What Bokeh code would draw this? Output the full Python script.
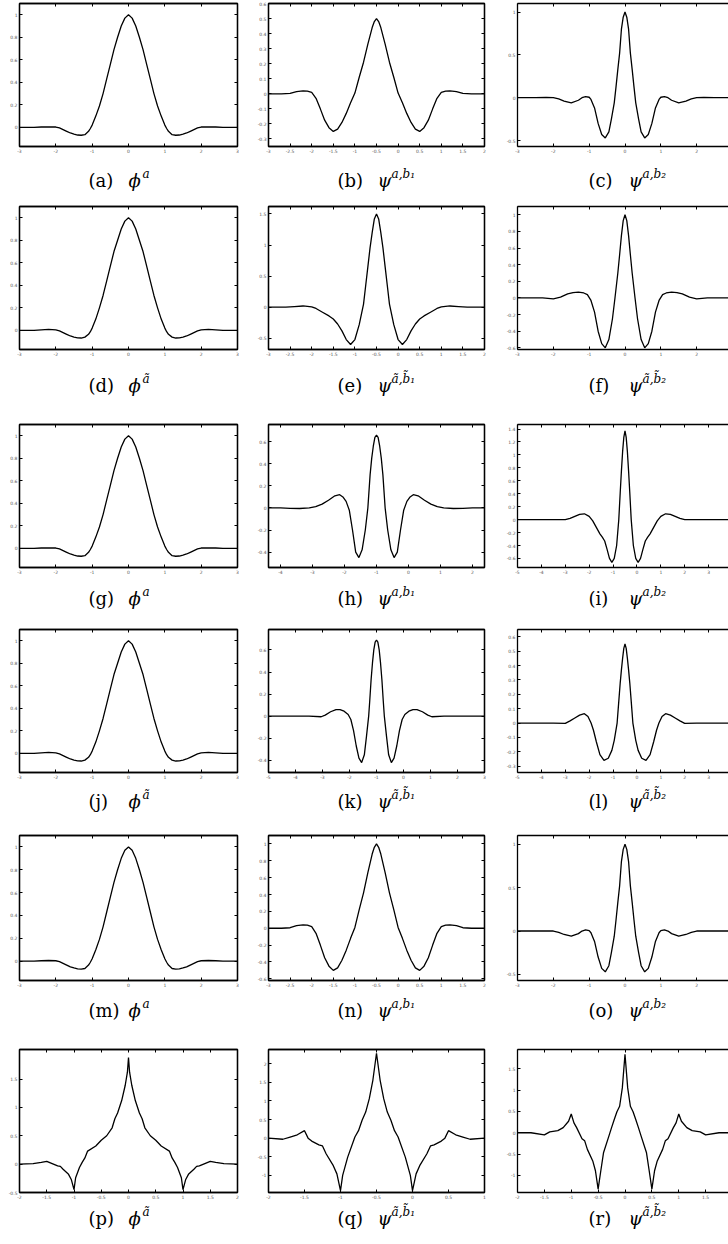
from bokeh.plotting import figure
from bokeh.layouts import column, row
from bokeh.models import Range1d, FixedTicker, LinearAxis, CustomJSTickFormatter
from bokeh.core.properties import value
from bokeh.embed import file_html
from bokeh.resources import INLINE

# ---------------- data ----------------
A_X = [-3, -2.6, -2.4, -2.2, -2.0, -1.9, -1.8, -1.7, -1.6, -1.5, -1.4, -1.3, -1.2, -1.1, -1.05, -1.0, -0.9, -0.8, -0.7, -0.6, -0.5, -0.4, -0.3, -0.2, -0.1, 0,
       0.1, 0.2, 0.3, 0.4, 0.5, 0.6, 0.7, 0.8, 0.9, 1.0, 1.05, 1.1, 1.2, 1.3, 1.4, 1.5, 1.6, 1.7, 1.8, 1.9, 2.0, 2.2, 2.4, 2.6, 3]
A_Y = [0, 0, 0.003, 0.005, 0.003, -0.005, -0.02, -0.035, -0.05, -0.06, -0.068, -0.07, -0.065, -0.035, -0.01, 0.02, 0.1, 0.19, 0.3, 0.43, 0.56, 0.69, 0.8, 0.9, 0.97, 1.0,
       0.97, 0.9, 0.8, 0.69, 0.56, 0.43, 0.3, 0.19, 0.1, 0.02, -0.01, -0.035, -0.065, -0.07, -0.068, -0.06, -0.05, -0.035, -0.02, -0.005, 0.003, 0.005, 0.003, 0, 0]

B_X = [-3, -2.7, -2.5, -2.35, -2.2, -2.1, -2.0, -1.9, -1.8, -1.7, -1.6, -1.5, -1.4, -1.3, -1.2, -1.1, -1.0, -0.9, -0.8, -0.7, -0.6, -0.55, -0.5,
       -0.45, -0.4, -0.3, -0.2, -0.1, 0.0, 0.1, 0.2, 0.3, 0.4, 0.5, 0.6, 0.7, 0.8, 0.9, 1.0, 1.1, 1.2, 1.35, 1.5, 1.7, 2.0]
B_Y = [0, 0, 0.003, 0.015, 0.02, 0.018, 0.01, -0.03, -0.1, -0.175, -0.225, -0.25, -0.235, -0.19, -0.13, -0.06, 0.005, 0.11, 0.21, 0.33, 0.44, 0.48, 0.5,
       0.48, 0.44, 0.33, 0.21, 0.11, 0.005, -0.06, -0.13, -0.19, -0.235, -0.25, -0.225, -0.175, -0.1, -0.03, 0.01, 0.018, 0.02, 0.015, 0.003, 0, 0]

C_X = [-3, -2.5, -2.2, -2.0, -1.85, -1.7, -1.5, -1.3, -1.2, -1.1, -1.0, -0.95, -0.85, -0.75, -0.65, -0.55, -0.45, -0.38, -0.3, -0.25, -0.2, -0.15, -0.1, -0.05, 0,
       0.05, 0.1, 0.15, 0.2, 0.25, 0.3, 0.38, 0.45, 0.55, 0.65, 0.75, 0.85, 0.95, 1.0, 1.1, 1.2, 1.3, 1.5, 1.7, 1.85, 2.0, 2.2, 2.5, 3]
C_Y = [0, 0, 0.002, 0, -0.015, -0.04, -0.06, -0.03, 0.0, 0.012, 0.005, -0.02, -0.12, -0.3, -0.43, -0.47, -0.4, -0.25, -0.06, 0.13, 0.33, 0.52, 0.8, 0.94, 1.0,
       0.94, 0.8, 0.52, 0.33, 0.13, -0.06, -0.25, -0.4, -0.47, -0.43, -0.3, -0.12, -0.02, 0.005, 0.012, 0.0, -0.03, -0.06, -0.04, -0.015, 0, 0.002, 0, 0]

D_X = [-3, -2.6, -2.4, -2.2, -2.0, -1.9, -1.8, -1.7, -1.6, -1.5, -1.4, -1.3, -1.2, -1.1, -1.05, -1.0, -0.9, -0.8, -0.7, -0.6, -0.5, -0.4, -0.3, -0.2, -0.1, 0,
       0.1, 0.2, 0.3, 0.4, 0.5, 0.6, 0.7, 0.8, 0.9, 1.0, 1.05, 1.1, 1.2, 1.3, 1.4, 1.5, 1.6, 1.7, 1.8, 1.9, 2.0, 2.2, 2.4, 2.6, 3]
D_Y = [0, 0, 0.004, 0.008, 0.004, -0.005, -0.02, -0.035, -0.05, -0.06, -0.066, -0.068, -0.06, -0.035, -0.012, 0.02, 0.1, 0.2, 0.31, 0.44, 0.57, 0.7, 0.8, 0.9, 0.97, 1.0,
       0.97, 0.9, 0.8, 0.7, 0.57, 0.44, 0.31, 0.2, 0.1, 0.02, -0.012, -0.035, -0.06, -0.068, -0.066, -0.06, -0.05, -0.035, -0.02, -0.005, 0.004, 0.008, 0.004, 0, 0]

E_X = [-3, -2.6, -2.4, -2.2, -2.0, -1.9, -1.75, -1.6, -1.5, -1.4, -1.3, -1.2, -1.1, -1.0, -0.9, -0.8, -0.75, -0.7, -0.65, -0.6, -0.55, -0.5,
       -0.45, -0.4, -0.35, -0.3, -0.25, -0.2, -0.1, 0.0, 0.1, 0.2, 0.3, 0.4, 0.5, 0.6, 0.75, 0.9, 1.0, 1.2, 1.4, 1.6, 2.0]
E_Y = [0, 0, 0.01, 0.02, 0.005, -0.02, -0.08, -0.14, -0.19, -0.27, -0.38, -0.52, -0.6, -0.52, -0.28, 0.05, 0.35, 0.65, 0.95, 1.2, 1.42, 1.5,
       1.42, 1.2, 0.95, 0.65, 0.35, 0.05, -0.28, -0.52, -0.6, -0.52, -0.38, -0.27, -0.19, -0.14, -0.08, -0.02, 0.005, 0.02, 0.01, 0, 0]

F_X = [-3, -2.5, -2.3, -2.0, -1.8, -1.6, -1.45, -1.3, -1.15, -1.05, -0.95, -0.85, -0.75, -0.65, -0.55, -0.45, -0.35, -0.28, -0.2, -0.15, -0.1, -0.05, 0,
       0.05, 0.1, 0.15, 0.2, 0.28, 0.35, 0.45, 0.55, 0.65, 0.75, 0.85, 0.95, 1.05, 1.15, 1.3, 1.45, 1.6, 1.8, 2.0, 2.3, 2.5, 3]
F_Y = [0, 0, 0, -0.01, 0.01, 0.05, 0.065, 0.07, 0.06, 0.04, -0.03, -0.17, -0.4, -0.55, -0.6, -0.5, -0.25, 0.0, 0.3, 0.52, 0.75, 0.93, 1.0,
       0.93, 0.75, 0.52, 0.3, 0.0, -0.25, -0.5, -0.6, -0.55, -0.4, -0.17, -0.03, 0.04, 0.06, 0.07, 0.065, 0.05, 0.01, -0.01, 0, 0, 0]

H_X = [-4.375, -4.0, -3.7, -3.4, -3.1, -2.9, -2.7, -2.5, -2.3, -2.15, -2.05, -1.95, -1.85, -1.75, -1.65, -1.55, -1.45, -1.35, -1.27, -1.2, -1.15, -1.1, -1.05, -1.0,
       -0.95, -0.9, -0.85, -0.8, -0.73, -0.65, -0.55, -0.45, -0.35, -0.25, -0.15, -0.05, 0.05, 0.15, 0.3, 0.5, 0.7, 0.9, 1.1, 1.4, 1.7, 2.0, 2.375]
H_Y = [0, 0, -0.004, -0.005, 0, 0.012, 0.035, 0.07, 0.11, 0.12, 0.1, 0.06, -0.02, -0.2, -0.4, -0.45, -0.38, -0.2, 0, 0.3, 0.45, 0.56, 0.64, 0.66,
       0.64, 0.56, 0.45, 0.3, 0, -0.2, -0.38, -0.45, -0.4, -0.2, -0.02, 0.06, 0.1, 0.12, 0.11, 0.07, 0.035, 0.012, 0, -0.005, -0.004, 0, 0]

I_X = [-5, -4, -3.5, -3.0, -2.8, -2.6, -2.4, -2.2, -2.0, -1.85, -1.7, -1.55, -1.45, -1.35, -1.25, -1.15, -1.05, -0.95, -0.85, -0.76, -0.7, -0.65, -0.6, -0.55, -0.5,
       -0.45, -0.4, -0.35, -0.3, -0.24, -0.15, -0.05, 0.05, 0.15, 0.25, 0.35, 0.45, 0.55, 0.7, 0.85, 1.0, 1.2, 1.4, 1.6, 1.8, 2.0, 2.5, 3.0, 4.0]
I_Y = [0, 0, 0, 0, 0.02, 0.05, 0.08, 0.09, 0.05, -0.02, -0.12, -0.22, -0.27, -0.33, -0.46, -0.6, -0.66, -0.6, -0.4, 0, 0.42, 0.75, 1.05, 1.27, 1.37,
       1.27, 1.05, 0.75, 0.42, 0, -0.4, -0.6, -0.66, -0.6, -0.46, -0.33, -0.27, -0.22, -0.12, -0.02, 0.05, 0.09, 0.08, 0.05, 0.02, 0, 0, 0, 0]

K_X = [-5, -3.5, -3.05, -2.9, -2.7, -2.5, -2.35, -2.2, -2.05, -1.95, -1.85, -1.75, -1.65, -1.55, -1.45, -1.37, -1.29, -1.25, -1.2, -1.15, -1.1, -1.05, -1.0,
       -0.95, -0.9, -0.85, -0.8, -0.75, -0.71, -0.63, -0.55, -0.45, -0.35, -0.25, -0.15, -0.05, 0.05, 0.2, 0.35, 0.5, 0.7, 0.9, 1.05, 1.5, 3.0]
K_Y = [0, 0, -0.005, 0.01, 0.04, 0.06, 0.06, 0.045, 0.015, -0.03, -0.13, -0.27, -0.38, -0.42, -0.35, -0.18, 0, 0.14, 0.33, 0.48, 0.6, 0.67, 0.69,
       0.67, 0.6, 0.48, 0.33, 0.14, 0, -0.18, -0.35, -0.42, -0.38, -0.27, -0.13, -0.03, 0.015, 0.045, 0.06, 0.06, 0.04, 0.01, -0.005, 0, 0]

L_X = [-5, -3.5, -3.0, -2.8, -2.6, -2.4, -2.2, -2.05, -1.92, -1.82, -1.7, -1.55, -1.38, -1.2, -1.05, -0.95, -0.83, -0.77, -0.7, -0.65, -0.6, -0.55, -0.5,
       -0.45, -0.4, -0.35, -0.3, -0.23, -0.17, -0.05, 0.05, 0.2, 0.38, 0.55, 0.7, 0.82, 0.92, 1.05, 1.2, 1.4, 1.6, 1.8, 2.0, 2.5, 4.0]
L_Y = [0, 0, -0.002, 0.015, 0.035, 0.055, 0.065, 0.045, 0, -0.05, -0.13, -0.22, -0.26, -0.245, -0.19, -0.12, 0, 0.13, 0.28, 0.37, 0.45, 0.52, 0.55,
       0.52, 0.45, 0.37, 0.28, 0.13, 0, -0.12, -0.19, -0.245, -0.26, -0.22, -0.13, -0.05, 0, 0.045, 0.065, 0.055, 0.035, 0.015, -0.002, 0, 0]

N_X = [-3, -2.7, -2.5, -2.35, -2.2, -2.1, -2.0, -1.9, -1.8, -1.7, -1.6, -1.5, -1.4, -1.3, -1.2, -1.1, -1.0, -0.9, -0.8, -0.7, -0.6, -0.55, -0.5,
       -0.45, -0.4, -0.3, -0.2, -0.1, 0.0, 0.1, 0.2, 0.3, 0.4, 0.5, 0.6, 0.7, 0.8, 0.9, 1.0, 1.1, 1.2, 1.35, 1.5, 1.7, 2.0]
N_Y = [0, 0, 0.006, 0.03, 0.04, 0.036, 0.02, -0.06, -0.2, -0.35, -0.45, -0.5, -0.47, -0.38, -0.26, -0.12, 0.01, 0.22, 0.42, 0.66, 0.88, 0.96, 1.0,
       0.96, 0.88, 0.66, 0.42, 0.22, 0.01, -0.12, -0.26, -0.38, -0.47, -0.5, -0.45, -0.35, -0.2, -0.06, 0.02, 0.036, 0.04, 0.03, 0.006, 0, 0]

P_X = [-2, -1.75, -1.6, -1.5, -1.4, -1.3, -1.25, -1.2, -1.1, -1.05, -1.0, -0.97, -0.9, -0.85, -0.8, -0.75, -0.6, -0.5, -0.4, -0.3, -0.25, -0.2, -0.125, -0.06, -0.02, 0,
       0.02, 0.06, 0.125, 0.2, 0.25, 0.3, 0.4, 0.5, 0.6, 0.75, 0.8, 0.85, 0.9, 0.97, 1.0, 1.05, 1.1, 1.2, 1.25, 1.3, 1.4, 1.5, 1.6, 1.75, 2]
P_Y = [0, 0.01, 0.03, 0.05, 0.01, -0.03, -0.04, -0.09, -0.18, -0.27, -0.45, -0.24, -0.06, 0.03, 0.11, 0.23, 0.32, 0.42, 0.5, 0.64, 0.8, 0.9, 1.12, 1.39, 1.62, 1.88,
       1.62, 1.39, 1.12, 0.9, 0.8, 0.64, 0.5, 0.42, 0.32, 0.23, 0.11, 0.03, -0.06, -0.24, -0.45, -0.27, -0.18, -0.09, -0.04, -0.03, 0.01, 0.05, 0.03, 0.01, 0]

Q_X = [-2, -1.8, -1.7, -1.6, -1.5, -1.45, -1.4, -1.3, -1.25, -1.2, -1.1, -1.05, -1.0, -0.97, -0.9, -0.8, -0.75, -0.7, -0.65, -0.6, -0.55, -0.5,
       -0.45, -0.4, -0.35, -0.3, -0.25, -0.2, -0.1, -0.03, 0.0, 0.05, 0.1, 0.2, 0.25, 0.3, 0.4, 0.45, 0.5, 0.6, 0.7, 0.8, 1.0]
Q_Y = [0, -0.03, 0.03, 0.09, 0.2, 0.0, -0.08, -0.18, -0.21, -0.42, -0.74, -0.96, -1.41, -1.0, -0.51, 0.03, 0.2, 0.48, 0.7, 1.06, 1.56, 2.28,
       1.56, 1.06, 0.7, 0.48, 0.2, 0.03, -0.51, -1.0, -1.41, -0.96, -0.74, -0.42, -0.21, -0.18, -0.08, 0.0, 0.2, 0.09, 0.03, -0.03, 0]

R_X = [-2, -1.75, -1.5, -1.4, -1.25, -1.15, -1.05, -1.0, -0.95, -0.9, -0.8, -0.75, -0.7, -0.6, -0.55, -0.5, -0.45, -0.4, -0.3, -0.25, -0.2, -0.15, -0.1, -0.05, 0,
       0.05, 0.1, 0.15, 0.2, 0.25, 0.3, 0.4, 0.45, 0.5, 0.55, 0.6, 0.7, 0.75, 0.8, 0.9, 0.95, 1.0, 1.05, 1.15, 1.25, 1.4, 1.5, 1.75, 2]
R_Y = [0, 0, -0.05, 0.02, 0.05, 0.12, 0.27, 0.44, 0.23, 0.12, -0.14, -0.19, -0.39, -0.66, -0.89, -1.32, -0.89, -0.47, -0.08, 0.12, 0.31, 0.49, 0.62, 1.05, 1.84,
       1.05, 0.62, 0.49, 0.31, 0.12, -0.08, -0.47, -0.89, -1.32, -0.89, -0.66, -0.39, -0.19, -0.14, 0.12, 0.23, 0.44, 0.27, 0.12, 0.05, 0.02, -0.05, 0, 0]

# tick values
T_INT3 = [-3, -2, -1, 0, 1, 2, 3]
T_HALF32 = [-3, -2.5, -2, -1.5, -1, -0.5, 0, 0.5, 1, 1.5, 2]
T_INT42 = [-4, -3, -2, -1, 0, 1, 2]
T_INT54 = [-5, -4, -3, -2, -1, 0, 1, 2, 3, 4]
T_INT53 = [-5, -4, -3, -2, -1, 0, 1, 2, 3]
T_HALF22 = [-2, -1.5, -1, -0.5, 0, 0.5, 1, 1.5, 2]
T_HALF21 = [-2, -1.5, -1, -0.5, 0, 0.5, 1]
Y_01 = [0, 0.2, 0.4, 0.6, 0.8, 1]
Y_B = [-0.3, -0.2, -0.1, 0, 0.1, 0.2, 0.3, 0.4, 0.5, 0.6]
Y_C = [-0.5, 0, 0.5, 1]
Y_E = [-0.5, 0, 0.5, 1, 1.5]
Y_F = [-0.6, -0.4, -0.2, 0, 0.2, 0.4, 0.6, 0.8, 1]
Y_H = [-0.4, -0.2, 0, 0.2, 0.4, 0.6]
Y_I = [-0.6, -0.4, -0.2, 0, 0.2, 0.4, 0.6, 0.8, 1, 1.2, 1.4]
Y_L = [-0.3, -0.2, -0.1, 0, 0.1, 0.2, 0.3, 0.4, 0.5, 0.6]
Y_P = [-0.5, 0, 0.5, 1, 1.5]
Y_Q = [-1, -0.5, 0, 0.5, 1, 1.5, 2]
Y_R = [-1, -0.5, 0, 0.5, 1, 1.5]

LETTERS = ["a", "b", "c", "d", "e", "f", "g", "h", "i", "j", "k", "l", "m", "n", "o", "p", "q", "r"]
SYMBOLS = ["ϕ", "ψ", "ψ", "ϕ", "ψ", "ψ", "ϕ", "ψ", "ψ", "ϕ", "ψ", "ψ", "ϕ", "ψ", "ψ", "ϕ", "ψ", "ψ"]
SUPERS = ["a", "a,b₁", "a,b₂", "ã", "ã,b̃₁", "ã,b̃₂", "a", "a,b₁", "a,b₂", "ã", "ã,b̃₁", "ã,b̃₂",
          "a", "a,b₁", "a,b₂", "ã", "ã,b̃₁", "ã,b̃₂"]

PANELS = [
    (A_X, A_Y, (-3, 3), (-0.17, 1.1), T_INT3, Y_01),
    (B_X, B_Y, (-3, 2), (-0.35, 0.6), T_HALF32, Y_B),
    (C_X, C_Y, (-3, 3), (-0.57, 1.1), T_INT3, Y_C),
    (D_X, D_Y, (-3, 3), (-0.17, 1.1), T_INT3, Y_01),
    (E_X, E_Y, (-3, 2), (-0.68, 1.62), T_HALF32, Y_E),
    (F_X, F_Y, (-3, 3), (-0.62, 1.1), T_INT3, Y_F),
    (A_X, A_Y, (-3, 3), (-0.17, 1.1), T_INT3, Y_01),
    (H_X, H_Y, (-4.375, 2.375), (-0.54, 0.757), T_INT42, Y_H),
    (I_X, I_Y, (-5, 4), (-0.74, 1.47), T_INT54, Y_I),
    (D_X, D_Y, (-3, 3), (-0.17, 1.1), T_INT3, Y_01),
    (K_X, K_Y, (-5, 3), (-0.51, 0.785), T_INT53, Y_H),
    (L_X, L_Y, (-5, 4), (-0.344, 0.651), T_INT54, Y_L),
    (A_X, A_Y, (-3, 3), (-0.17, 1.1), T_INT3, Y_01),
    (N_X, N_Y, (-3, 2), (-0.62, 1.1), T_HALF32, Y_F),
    (C_X, C_Y, (-3, 3), (-0.57, 1.1), T_INT3, Y_C),
    (P_X, P_Y, (-2, 2), (-0.5, 2.02), T_HALF22, Y_P),
    (Q_X, Q_Y, (-2, 1), (-1.46, 2.38), T_HALF21, Y_Q),
    (R_X, R_Y, (-2, 2), (-1.4, 1.95), T_HALF22, Y_R),
]

for i, pnl in enumerate(PANELS):
    if len(pnl[0]) != len(pnl[1]):
        raise ValueError("length mismatch in panel %s: %d vs %d" % (LETTERS[i], len(pnl[0]), len(pnl[1])))

# ---------------- layout geometry (page pixels) ----------------
COL_LEFT = [0, 252, 500]
COL_W = [252, 248, 228]
FRAME_L = [19, 268, 517]
FRAME_R = [237, 484, 728]
FRAME_R_FULL = [237, 484, 732]

ROW_TOP = [0, 196, 414, 619, 825, 1039]
FRAME_T = [3, 206, 424, 629, 835, 1049]
FRAME_B = [146, 349, 567, 772, 980, 1192]
END = 1242
BASELINE = [180, 385, 598, 801, 1010, 1218]
CAP_X = [88, 337, 588]

FMT = CustomJSTickFormatter(code="return String(Math.round(tick*1000)/1000);")


def style_axis(ax, ticks, show_labels):
    ax.ticker = FixedTicker(ticks=ticks, minor_ticks=[])
    ax.major_tick_in = 3
    ax.major_tick_out = 0
    ax.minor_tick_line_color = None
    ax.major_tick_line_color = "black"
    ax.major_tick_line_width = 1
    ax.axis_line_color = "black"
    ax.axis_line_width = 1.3
    ax.major_label_text_font_size = "4.5px"
    ax.major_label_text_font = "DejaVu Sans"
    if show_labels:
        ax.formatter = FMT
        ax.major_label_text_color = "#555555"
        ax.major_label_standoff = 2
    else:
        ax.major_label_text_color = None
        ax.major_label_standoff = 0


def make_panel(k, r, c):
    xs, ys, xr, yr, xt, yt = PANELS[k]
    x0, x1 = xr
    if FRAME_R[c] != FRAME_R_FULL[c]:
        x1 = x0 + (x1 - x0) * (FRAME_R[c] - FRAME_L[c]) / (FRAME_R_FULL[c] - FRAME_L[c])
    ph = FRAME_B[r] + 10 - ROW_TOP[r]
    p = figure(width=COL_W[c], height=ph, x_range=Range1d(x0, x1), y_range=Range1d(*yr),
               toolbar_location=None, output_backend="svg", title=None,
               min_border_left=FRAME_L[c] - COL_LEFT[c],
               min_border_right=COL_LEFT[c] + COL_W[c] - FRAME_R[c],
               min_border_top=FRAME_T[r] - ROW_TOP[r], min_border_bottom=10,
               background_fill_color="white", border_fill_color="white")
    p.grid.visible = False
    p.line(xs, ys, line_color="black", line_width=1.3)
    style_axis(p.xaxis[0], xt, True)
    style_axis(p.yaxis[0], yt, True)
    top = LinearAxis()
    style_axis(top, xt, False)
    p.add_layout(top, "above")
    if c < 2:
        right = LinearAxis()
        style_axis(right, yt, False)
        p.add_layout(right, "right")
        p.outline_line_color = "black"
        p.outline_line_width = 1.3
    else:
        p.outline_line_color = None
    return p


def make_caption(k, r, c):
    top = FRAME_B[r] + 10
    bottom = ROW_TOP[r + 1] if r < 5 else END
    h = bottom - top
    w = COL_W[c]
    p = figure(width=w, height=h, x_range=Range1d(0, w), y_range=Range1d(0, h),
               toolbar_location=None, output_backend="svg", x_axis_type=None, y_axis_type=None,
               title=None, min_border=0, outline_line_color=None)
    p.grid.visible = False
    base = bottom - BASELINE[r]
    cx = CAP_X[c] - COL_LEFT[c]
    p.text(x=[cx], y=[base], text=["(" + LETTERS[k] + ")"], text_font=value("DejaVu Serif"),
           text_font_size="18px", text_align="left", text_baseline="alphabetic", text_color="black")
    p.text(x=[cx + 40], y=[base], text=[SYMBOLS[k]], text_font=value("DejaVu Serif"),
           text_font_size="18px", text_font_style="italic", text_align="left",
           text_baseline="alphabetic", text_color="black")
    p.text(x=[cx + 54], y=[base + 7], text=[SUPERS[k]], text_font=value("DejaVu Serif"),
           text_font_size="12px", text_font_style="italic", text_align="left",
           text_baseline="alphabetic", text_color="black")
    return p


rows = []
for r in range(6):
    rows.append(row(*[make_panel(3 * r + c, r, c) for c in range(3)]))
    rows.append(row(*[make_caption(3 * r + c, r, c) for c in range(3)]))

layout = column(*rows)
open("out.html", "w").write(file_html(layout, INLINE))
